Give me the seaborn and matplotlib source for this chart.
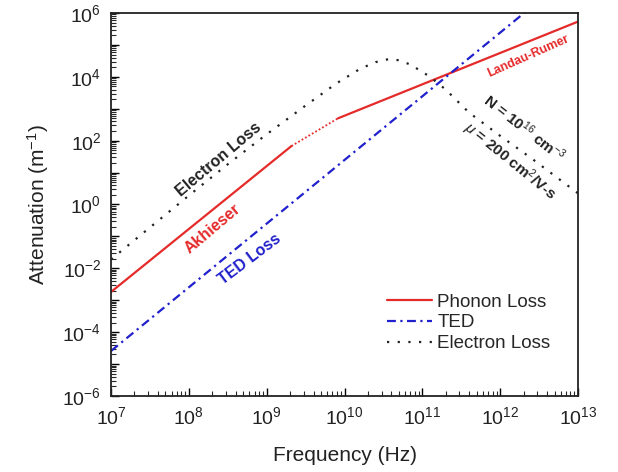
import numpy as np
import pandas as pd
import matplotlib
matplotlib.use("Agg")
import matplotlib.pyplot as plt
import seaborn as sns
from matplotlib.ticker import LogLocator, FixedLocator, FuncFormatter, NullFormatter

# ---- data (log-log axes) ----
akhieser_freq = [1e7, 10**9.318]
akhieser_att = [10**-2.74, 10**1.83]
transition_freq = [10**9.318, 10**9.917]
transition_att = [10**1.83, 10**2.70]
landau_freq = [10**9.917, 1e13]
landau_att = [10**2.70, 10**5.73]

ted_freq = [1e7, 1e13]
ted_att = [10**-4.59, 10**7.38]

electron_logf = [7.0, 7.5, 8.0, 8.5, 9.0, 9.5, 9.9, 10.2, 10.4, 10.56, 10.7,
                 10.85, 11.1, 11.3, 11.6, 12.0, 12.4, 13.0]
electron_loga = [-1.72, -0.72, 0.28, 1.26, 2.2, 3.1, 3.8, 4.25, 4.46, 4.55, 4.52,
                 4.38, 4.0, 3.6, 2.88, 2.15, 1.45, 0.35]
electron_freq = [10**v for v in electron_logf]
electron_att = [10**v for v in electron_loga]

xtick_exp = [7, 8, 9, 10, 11, 12, 13]
ytick_exp = [-6, -5, -4, -3, -2, -1, 0, 1, 2, 3, 4, 5, 6]

# ---- style ----
sns.set_style("white")
plt.rcParams["font.family"] = ["Liberation Sans", "DejaVu Sans"]
plt.rcParams["mathtext.fontset"] = "custom"
plt.rcParams["mathtext.rm"] = "Liberation Sans"
plt.rcParams["mathtext.it"] = "Liberation Sans:italic"
plt.rcParams["mathtext.bf"] = "Liberation Sans:bold"

RED = "#e52a2a"
BLUE = "#2020cc"

fig = plt.figure(figsize=(6.18, 4.72), dpi=100)
ax = fig.add_axes([0.1796, 0.161, 0.7557, 0.8115])

sns.lineplot(x=akhieser_freq, y=akhieser_att, ax=ax, color=RED, lw=1.6,
             label="Phonon Loss", sort=False)
sns.lineplot(x=transition_freq, y=transition_att, ax=ax, color=RED, lw=1.3,
             linestyle=(0, (1, 1.2)), sort=False)
sns.lineplot(x=landau_freq, y=landau_att, ax=ax, color=RED, lw=1.6, sort=False)
sns.lineplot(x=ted_freq, y=ted_att, ax=ax, color=BLUE, lw=1.6,
             linestyle=(0, (4, 2, 1, 2)), label="TED", sort=False)
sns.lineplot(x=electron_freq, y=electron_att, ax=ax, color="#222222", lw=1.6,
             linestyle=(0, (1, 3.8)), label="Electron Loss", sort=False)

ax.set_xscale("log")
ax.set_yscale("log")
ax.set_xlim(1e7, 1e13)
ax.set_ylim(1e-6, 1e6)

ax.xaxis.set_major_locator(FixedLocator([10.0**e for e in xtick_exp]))
ax.xaxis.set_major_formatter(FuncFormatter(lambda v, p: r"$10^{%d}$" % round(np.log10(v))))
ax.xaxis.set_minor_locator(LogLocator(base=10, subs=np.arange(2, 10), numticks=100))
ax.xaxis.set_minor_formatter(NullFormatter())

ax.yaxis.set_major_locator(FixedLocator([10.0**e for e in ytick_exp]))
ax.yaxis.set_major_formatter(FuncFormatter(
    lambda v, p: (r"$10^{%d}$" % round(np.log10(v))) if round(np.log10(v)) % 2 == 0 else ""))
ax.yaxis.set_minor_locator(LogLocator(base=10, subs=np.arange(2, 10), numticks=100))
ax.yaxis.set_minor_formatter(NullFormatter())

ax.tick_params(axis="both", which="major", direction="in", length=6, width=1.0,
               labelsize=14, pad=7, color="black", labelcolor="#222222",
               top=False, right=False, bottom=True, left=True)
ax.tick_params(axis="both", which="minor", direction="in", length=3.5, width=0.8,
               top=False, right=False, bottom=True, left=True)

for s in ax.spines.values():
    s.set_visible(True)
    s.set_color("#222222")
    s.set_linewidth(1.3)

ax.set_xlabel("Frequency (Hz)", fontsize=15, color="#222222", labelpad=13)
ax.set_ylabel(r"Attenuation (m$^{-1}$)", fontsize=15, color="#222222", labelpad=8)

leg = ax.legend(loc="lower right", bbox_to_anchor=(0.977, 0.07), frameon=False,
                fontsize=13.5, handlelength=2.4, handletextpad=0.3, labelspacing=0.2)

# annotations
ax.text(10**8.38, 10**1.42, "Electron Loss", rotation=40, fontsize=11.5, fontweight="bold",
        color="#222222", ha="center", va="center", rotation_mode="anchor")
ax.text(10**8.3, 10**-0.75, "Akhieser", rotation=40, fontsize=11.5, fontweight="bold",
        color=RED, ha="center", va="center", rotation_mode="anchor")
ax.text(10**8.78, 10**-1.72, "TED Loss", rotation=37, fontsize=11.5, fontweight="bold",
        color=BLUE, ha="center", va="center", rotation_mode="anchor")
ax.text(10**12.36, 10**4.65, "Landau-Rumer", rotation=24, fontsize=9, fontweight="bold",
        color=RED, ha="center", va="center", rotation_mode="anchor")
ax.text(10**12.31, 10**2.4, r"N = 10$^{16}$ cm$^{-3}$", rotation=-38, fontsize=11,
        fontweight="bold", color="#222222", ha="center", va="center", rotation_mode="anchor")
ax.text(10**12.12, 10**1.34, r"$\mu$ = 200 cm$^{2}$/V-s", rotation=-39, fontsize=11,
        fontweight="bold", color="#222222", ha="center", va="center", rotation_mode="anchor")

fig.savefig("out.png", dpi=100)
